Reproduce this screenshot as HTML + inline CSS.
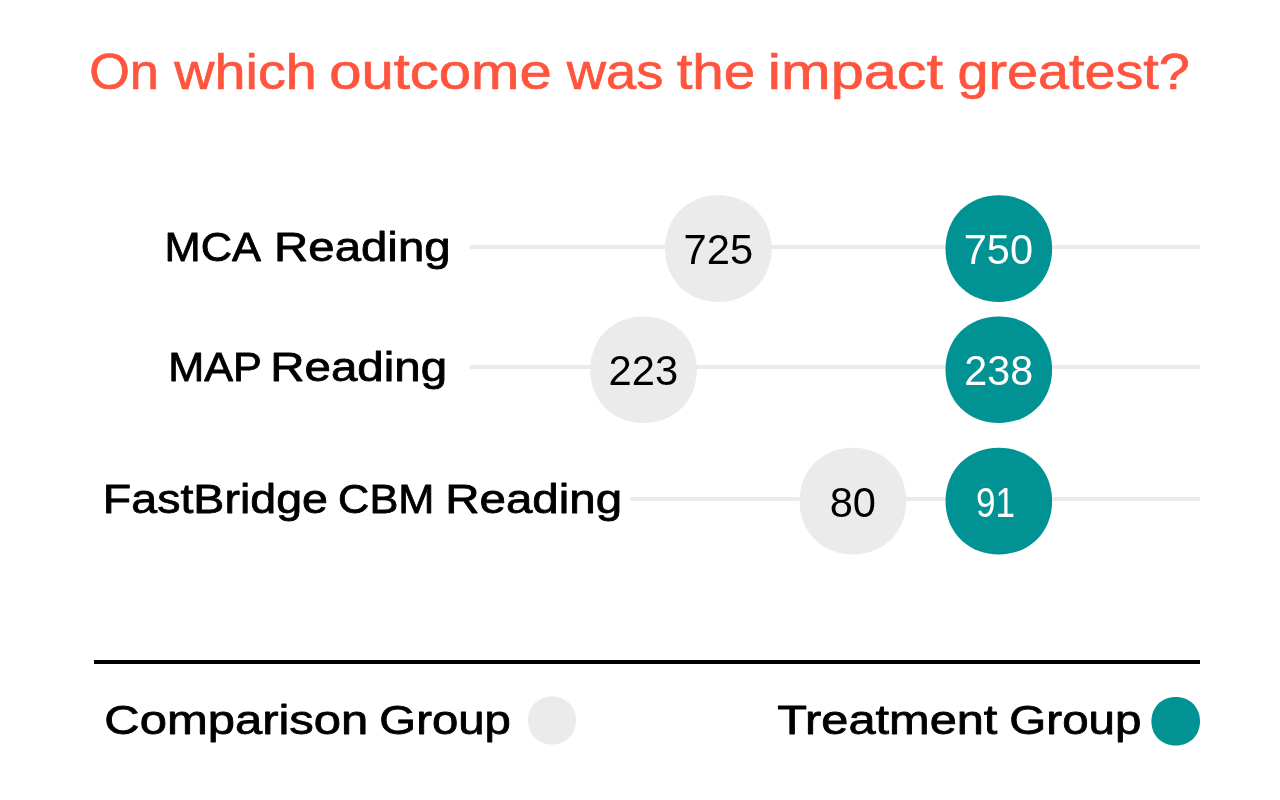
<!DOCTYPE html>
<html lang="en">
<head>
<meta charset="utf-8">
<title>On which outcome was the impact greatest?</title>
<style>
  html, body { margin: 0; padding: 0; background: #ffffff; }
  body { width: 1280px; height: 800px; overflow: hidden; font-family: "Liberation Sans", sans-serif; }
  svg { display: block; will-change: transform; }
  text { font-family: "Liberation Sans", sans-serif; }
  .title { fill: #ff543d; stroke: #ff543d; stroke-width: 0.7px; stroke-linejoin: round; font-size: 49.5px; }
  .label { fill: #000000; stroke: #000000; stroke-width: 0.8px; stroke-linejoin: round; font-size: 41.0px; }
  .num { font-size: 42.5px; fill: #000000; }
  .numw { font-size: 42.5px; fill: #ffffff; }
  .track { fill: #ebebeb; }
  .grey { fill: #ebebeb; }
  .teal { fill: #019393; }
</style>
</head>
<body>
<svg width="1280" height="800" viewBox="0 0 1280 800">
  <rect x="0" y="0" width="1280" height="800" fill="#ffffff"/>

  <!-- Title -->
  <text class="title" x="89.15" y="89.0" textLength="69.71" lengthAdjust="spacingAndGlyphs">On</text>
  <text class="title" x="174.30" y="89.0" textLength="142.43" lengthAdjust="spacingAndGlyphs">which</text>
  <text class="title" x="329.19" y="89.0" textLength="222.52" lengthAdjust="spacingAndGlyphs">outcome</text>
  <text class="title" x="566.71" y="89.0" textLength="96.63" lengthAdjust="spacingAndGlyphs">was</text>
  <text class="title" x="676.68" y="89.0" textLength="78.55" lengthAdjust="spacingAndGlyphs">the</text>
  <text class="title" x="767.89" y="89.0" textLength="175.20" lengthAdjust="spacingAndGlyphs">impact</text>
  <text class="title" x="957.49" y="89.0" textLength="232.33" lengthAdjust="spacingAndGlyphs">greatest?</text>

  <!-- Row 1: MCA Reading -->
  <text class="label" x="164.51" y="261.0" textLength="96.52" lengthAdjust="spacingAndGlyphs">MCA</text>
  <text class="label" x="274.11" y="261.0" textLength="176.47" lengthAdjust="spacingAndGlyphs">Reading</text>
  <rect class="track" x="470" y="245" width="730" height="4"/>
  <path class="grey" d="M771.6 248.6 C771.6 279.51 749.21 301.9 718.3 301.9 C687.39 301.9 665 279.51 665 248.6 C665 217.69 687.39 195.3 718.3 195.3 C749.21 195.3 771.6 217.69 771.6 248.6Z"/>
  <path class="teal" d="M1052.1 248.6 C1052.1 279.51 1029.71 301.9 998.8 301.9 C967.89 301.9 945.5 279.51 945.5 248.6 C945.5 217.69 967.89 195.3 998.8 195.3 C1029.71 195.3 1052.1 217.69 1052.1 248.6Z"/>
  <text class="num" x="683.60" y="264.0" textLength="69.58" lengthAdjust="spacingAndGlyphs">725</text>
  <text class="numw" x="963.78" y="264.0" textLength="69.29" lengthAdjust="spacingAndGlyphs">750</text>

  <!-- Row 2: MAP Reading -->
  <text class="label" x="168.28" y="381.0" textLength="93.68" lengthAdjust="spacingAndGlyphs">MAP</text>
  <text class="label" x="270.25" y="381.0" textLength="176.85" lengthAdjust="spacingAndGlyphs">Reading</text>
  <rect class="track" x="470" y="365" width="730" height="4"/>
  <path class="grey" d="M696.8 369.7 C696.8 400.61 674.41 423 643.5 423 C612.59 423 590.2 400.61 590.2 369.7 C590.2 338.79 612.59 316.4 643.5 316.4 C674.41 316.4 696.8 338.79 696.8 369.7Z"/>
  <path class="teal" d="M1052.1 369.7 C1052.1 400.61 1029.71 423 998.8 423 C967.89 423 945.5 400.61 945.5 369.7 C945.5 338.79 967.89 316.4 998.8 316.4 C1029.71 316.4 1052.1 338.79 1052.1 369.7Z"/>
  <text class="num" x="608.50" y="385.0" textLength="69.61" lengthAdjust="spacingAndGlyphs">223</text>
  <text class="numw" x="964.22" y="385.0" textLength="68.90" lengthAdjust="spacingAndGlyphs">238</text>

  <!-- Row 3: FastBridge CBM Reading -->
  <text class="label" x="102.89" y="513.0" textLength="225.03" lengthAdjust="spacingAndGlyphs">FastBridge</text>
  <text class="label" x="338.07" y="513.0" textLength="96.37" lengthAdjust="spacingAndGlyphs">CBM</text>
  <text class="label" x="445.25" y="513.0" textLength="176.85" lengthAdjust="spacingAndGlyphs">Reading</text>
  <rect class="track" x="630.5" y="497" width="569.5" height="4"/>
  <path class="grey" d="M906.2 501.1 C906.2 532.01 883.81 554.4 852.9 554.4 C821.99 554.4 799.6 532.01 799.6 501.1 C799.6 470.19 821.99 447.8 852.9 447.8 C883.81 447.8 906.2 470.19 906.2 501.1Z"/>
  <path class="teal" d="M1052.1 501.1 C1052.1 532.01 1029.71 554.4 998.8 554.4 C967.89 554.4 945.5 532.01 945.5 501.1 C945.5 470.19 967.89 447.8 998.8 447.8 C1029.71 447.8 1052.1 470.19 1052.1 501.1Z"/>
  <text class="num" x="829.70" y="517.0" textLength="46.32" lengthAdjust="spacingAndGlyphs">80</text>
  <text class="numw" x="976.12" y="517.0" textLength="39.00" lengthAdjust="spacingAndGlyphs">91</text>

  <!-- Divider -->
  <rect x="94" y="660" width="1106" height="4" fill="#000000"/>

  <!-- Legend -->
  <text class="label" x="104.37" y="734.0" textLength="263.93" lengthAdjust="spacingAndGlyphs">Comparison</text>
  <text class="label" x="379.36" y="734.0" textLength="131.49" lengthAdjust="spacingAndGlyphs">Group</text>
  <path class="grey" d="M576 720.4 C576 734.32 565.92 744.4 552 744.4 C538.08 744.4 528 734.32 528 720.4 C528 706.48 538.08 696.4 552 696.4 C565.92 696.4 576 706.48 576 720.4Z"/>
  <text class="label" x="777.15" y="734.0" textLength="220.24" lengthAdjust="spacingAndGlyphs">Treatment</text>
  <text class="label" x="1009.31" y="734.0" textLength="132.21" lengthAdjust="spacingAndGlyphs">Group</text>
  <path class="teal" d="M1200 721.3 C1200 735.39 1189.79 745.6 1175.7 745.6 C1161.61 745.6 1151.4 735.39 1151.4 721.3 C1151.4 707.21 1161.61 697 1175.7 697 C1189.79 697 1200 707.21 1200 721.3Z"/>
</svg>
</body>
</html>
